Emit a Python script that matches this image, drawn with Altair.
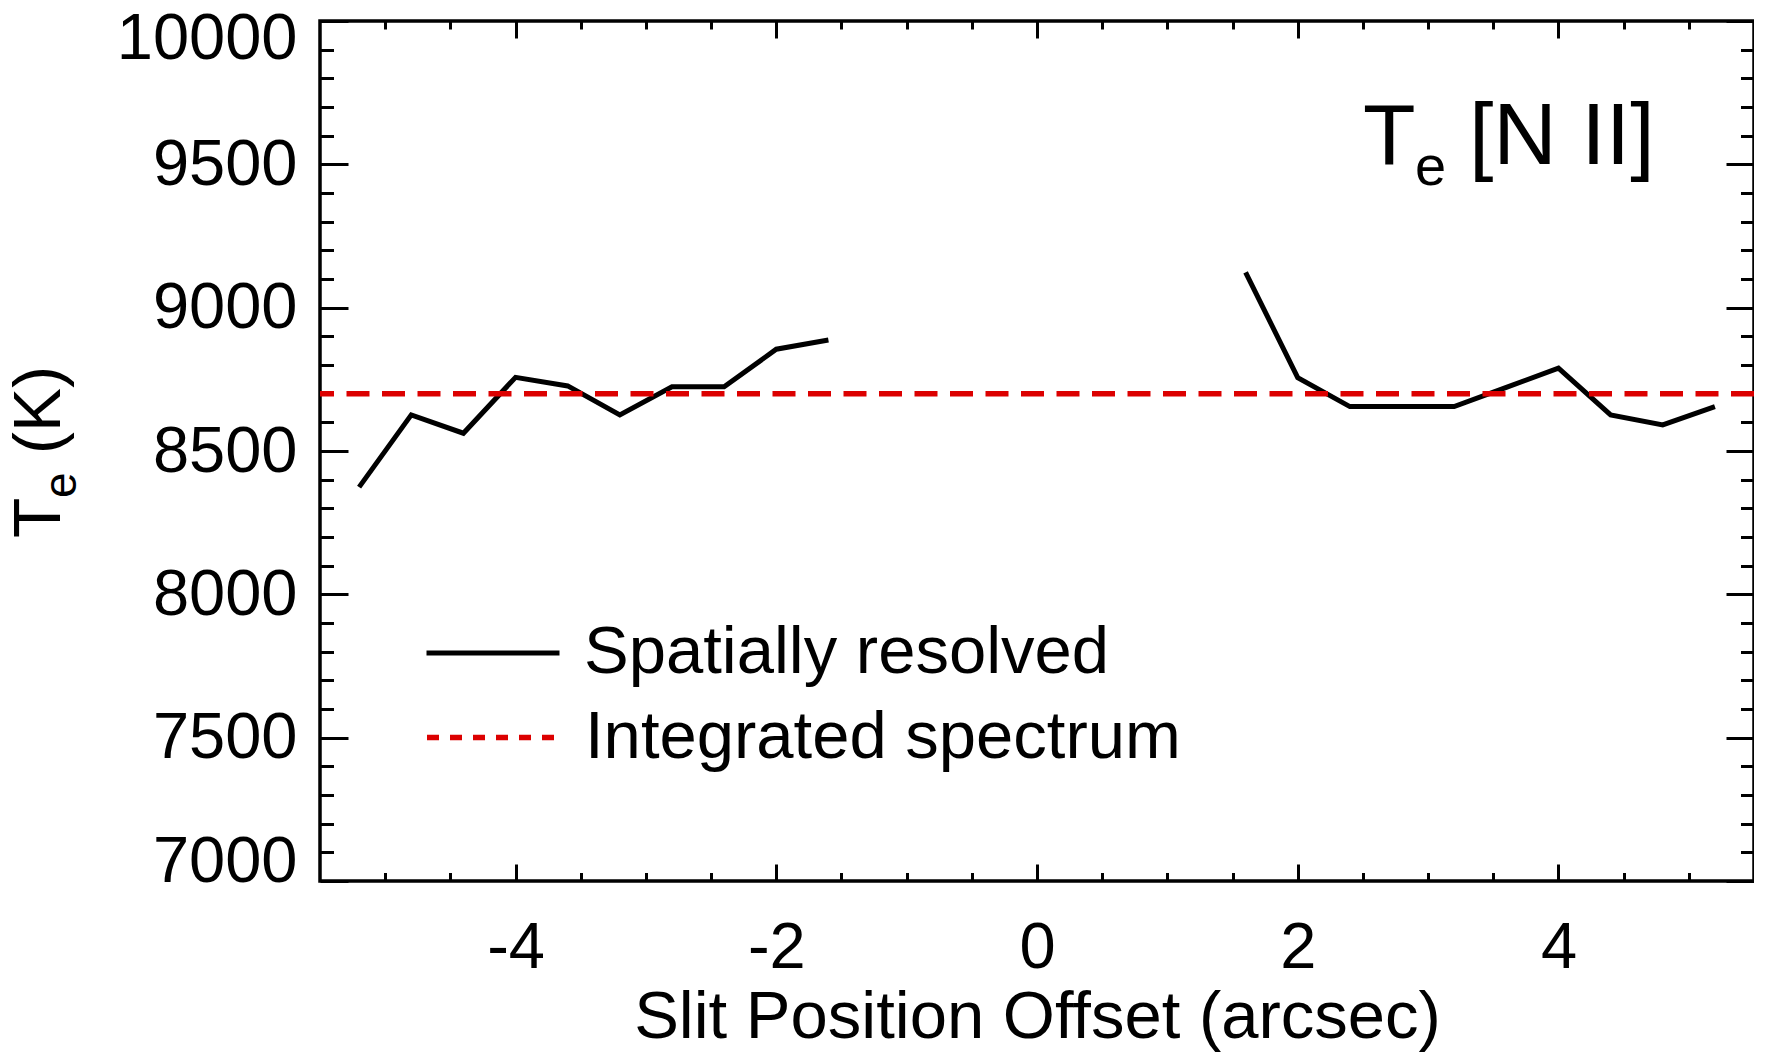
import altair as alt
import pandas as pd

# ---------------- data ----------------
left_offset = [-5.2, -4.8, -4.4, -4.0, -3.6, -3.2, -2.8, -2.4, -2.0, -1.6]
left_te = [8374, 8626, 8562, 8757, 8727, 8626, 8724, 8724, 8855, 8887]
right_offset = [1.6, 2.0, 2.4, 2.8, 3.2, 3.6, 4.0, 4.4, 4.8, 5.2]
right_te = [9123, 8756, 8655, 8655, 8655, 8722, 8789, 8626, 8591, 8655]
integrated_te = [8700]
series_names = ["Spatially resolved", "Integrated spectrum"]

x_domain = [-5.5, 5.5]
y_domain = [7000, 10000]
x_major = [-4, -2, 0, 2, 4]
x_minor = [-5.0, -4.5, -3.5, -3.0, -2.5, -1.5, -1.0, -0.5,
           0.5, 1.0, 1.5, 2.5, 3.0, 3.5, 4.5, 5.0]
y_major = [7000, 7500, 8000, 8500, 9000, 9500, 10000]
y_minor = [7100, 7200, 7300, 7400, 7600, 7700, 7800, 7900,
           8100, 8200, 8300, 8400, 8600, 8700, 8800, 8900,
           9100, 9200, 9300, 9400, 9600, 9700, 9800, 9900]

x_title = "Slit Position Offset (arcsec)"
y_title_parts = ["T", "e", "(K)"]
annot_parts = ["T", "e", "[N II]"]
annot_anchor = {"offset": [2.5], "te": [9500]}

# ---------------- styling ----------------
FONT = "Liberation Sans"
W, H = 1434, 860
RED = "#dc0000"
FS = 65
FS_BIG = 67

xs = alt.Scale(domain=x_domain, nice=False, zero=False)
ys = alt.Scale(domain=y_domain, nice=False, zero=False)


def ax(orient, values, size, **kw):
    opts = dict(orient=orient, values=values, tickSize={"expr": str(-size)},
                tickWidth=3, tickColor="black", domain=False, grid=False,
                labels=False, title=None)
    opts.update(kw)
    return alt.Axis(**opts)


def legend(y, **kw):
    opts = dict(orient="none", legendX=104, legendY=y, title=None,
                symbolType="stroke", symbolSize=133 ** 2, labelFont=FONT,
                labelFontSize=FS_BIG, labelColor="black", labelOffset=22,
                labelLimit=0, padding=0, symbolOffset=0)
    opts.update(kw)
    return alt.Legend(**opts)


line_df = pd.DataFrame({
    "offset": left_offset + right_offset,
    "te": left_te + right_te,
    "segment": ["left"] * len(left_offset) + ["right"] * len(right_offset),
    "series": [series_names[0]] * (len(left_offset) + len(right_offset)),
})

line = alt.Chart(line_df).mark_line(strokeWidth=5, color="black").encode(
    x=alt.X("offset:Q", scale=xs, axis=ax(
        "bottom", x_major, 17, labels=True, labelFont=FONT, labelFontSize=FS,
        labelColor="black", labelBaseline="alphabetic", labelPadding=103,
        labelFlush=False, labelOverlap=False, labelLimit=0,
        labelExpr="toString(datum.value)",
        title=x_title, titleFont=FONT, titleFontSize=FS_BIG, titleFontWeight="normal",
        titleColor="black", titleBaseline="alphabetic", titleY=156, titleLimit=0)),
    y=alt.Y("te:Q", scale=ys, axis=ax(
        "left", y_major, 28, labels=True, labelFont=FONT, labelFontSize=FS,
        labelColor="black", labelPadding=51, labelFlush=True, labelFlushOffset=14,
        labelOverlap=False, labelLimit=0, format="d")),
    color=alt.Color("series:N", scale=alt.Scale(domain=[series_names[0]], range=["black"]),
                    legend=legend(563, symbolStrokeWidth=5)),
    detail="segment:N",
    order="offset:Q",
)

rule_df = pd.DataFrame({"te": integrated_te, "series": [series_names[1]]})
rule = alt.Chart(rule_df).mark_rule(color=RED, strokeWidth=5.5, strokeDash=[23, 12.5]).encode(
    y=alt.Y("te:Q", scale=ys, axis=None),
    opacity=alt.Opacity("series:N", scale=alt.Scale(domain=[series_names[1]], range=[1]),
                        legend=legend(647, symbolStrokeWidth=5.5, symbolStrokeColor=RED,
                                      symbolDash=[12, 11])),
)

adf = pd.DataFrame(annot_anchor)
t_main = alt.Chart(adf).mark_text(text=annot_parts[0], font=FONT, fontSize=86, align="left",
                                  baseline="alphabetic", color="black").encode(
    x=alt.X("offset:Q", scale=xs, axis=ax("bottom", x_minor, 8.5)),
    y=alt.Y("te:Q", scale=ys, axis=ax("left", y_minor, 13.5)),
)
t_sub = alt.Chart(adf).mark_text(text=annot_parts[1], font=FONT, fontSize=56, align="left",
                                 baseline="alphabetic", color="black", dx=52, dy=21).encode(
    x=alt.X("offset:Q", scale=xs, axis=ax("top", x_major, 17)),
    y=alt.Y("te:Q", scale=ys, axis=ax("right", y_major, 28)),
)
t_rest = alt.Chart(adf).mark_text(text=annot_parts[2], font=FONT, fontSize=88, align="left",
                                  baseline="alphabetic", color="black", dx=106).encode(
    x=alt.X("offset:Q", scale=xs, axis=ax("top", x_minor, 8)),
    y=alt.Y("te:Q", scale=ys, axis=ax("right", y_minor, 13.5)),
)

# y-axis title with subscript
yt_T = alt.Chart(pd.DataFrame({"label": [y_title_parts[0]]})).mark_text(
    font=FONT, fontSize=66, angle=270, align="left", baseline="alphabetic", color="black"
).encode(text="label:N", x=alt.value(-260), y=alt.value(517))
yt_e = alt.Chart(pd.DataFrame({"label": [y_title_parts[1]]})).mark_text(
    font=FONT, fontSize=46, angle=270, align="left", baseline="alphabetic", color="black"
).encode(text="label:N", x=alt.value(-244), y=alt.value(477))
yt_K = alt.Chart(pd.DataFrame({"label": [y_title_parts[2]]})).mark_text(
    font=FONT, fontSize=66, angle=270, align="left", baseline="alphabetic", color="black"
).encode(text="label:N", x=alt.value(-260), y=alt.value(433))

chart = alt.layer(line, rule, t_main, t_sub, t_rest, yt_T, yt_e, yt_K).resolve_axis(
    x="independent", y="independent"
).properties(
    width=W, height=H,
    autosize=alt.AutoSizeParams(type="none"),
    padding={"left": 312, "top": 13, "right": 0, "bottom": 172},
    background="white",
).configure_view(stroke="black", strokeWidth=3.5)

chart.save("out.html", embed_options={"renderer": "svg", "actions": False})
